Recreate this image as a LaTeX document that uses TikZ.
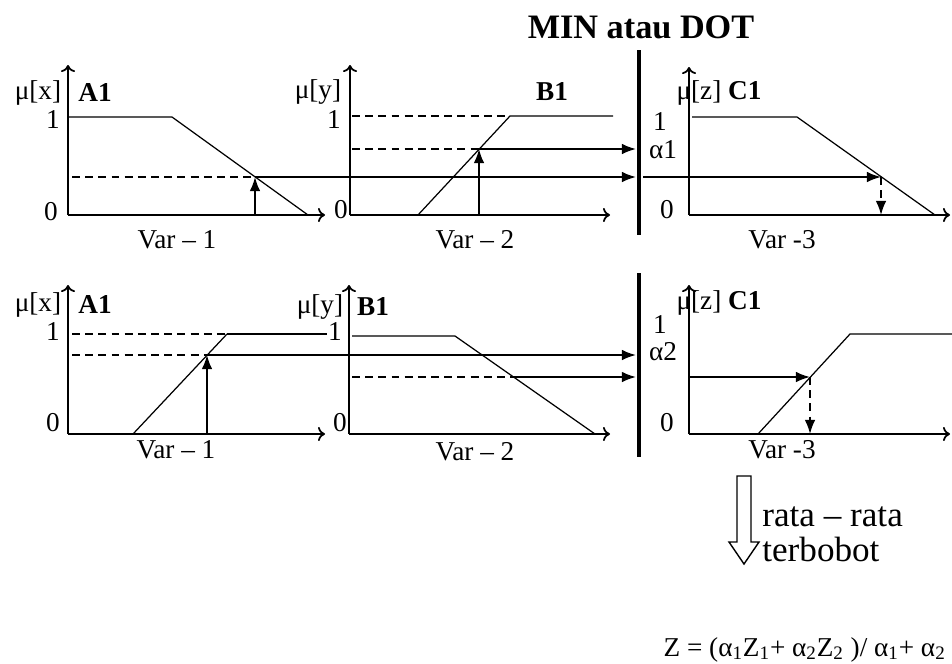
\documentclass[tikz,border=0pt]{standalone}
\usepackage{fontspec}
\setmainfont{Liberation Serif}
\usetikzlibrary{arrows.meta,positioning}

\begin{document}
\begin{tikzpicture}[
  x=0.02cm, y=-0.02cm,
  font=\fontsize{15.5}{17}\selectfont,
  ax/.style={line width=1pt, -{To[length=4pt,width=8pt]}},
  mf/.style={line width=0.7pt},
  lv/.style={line width=1pt, dash pattern=on 4.5pt off 3pt},
  d/.style={line width=1pt, -{Latex[length=8pt,width=6pt]}},
  dd/.style={d, dash pattern=on 4.5pt off 3pt},
  bar/.style={line width=2.5pt},
  t/.style={inner sep=0pt}
]
\useasboundingbox (0,0) rectangle (952,663);

\node[t, font=\fontsize{19.5}{21}\selectfont\bfseries] (title) at (641,27) {MIN atau DOT};

% rule 1 : A1
\coordinate (oa1) at (68,215);
\coordinate (ya1) at (68,65);
\coordinate (xa1) at (325,215);
\coordinate (a1l) at (68,117);
\coordinate (a1t) at (172,117);
\coordinate (a1b) at (308,215);
\coordinate (a1d) at (72,177);
\coordinate (a1x) at (255,215);
\coordinate (a1p) at (255,177);
\draw[ax] (oa1) -- (ya1);
\draw[ax] (oa1) -- (xa1);
\draw[mf] (a1l) -- (a1t) -- (a1b);
\draw[lv] (a1d) -- (a1p);
\draw[d] (a1x) -- (a1p);
\node[t] (mx1) at (38,93) {μ[x]};
\node[t] (na1) at (95,93) {\textbf{A1}};
\node[t] (one1) at (53,120) {1};
\node[t] (zero1) at (51,212) {0};
\node[t] (v11) at (177,240) {Var – 1};

% rule 1 : B1
\coordinate (ob1) at (350,215);
\coordinate (yb1) at (350,65);
\coordinate (xb1) at (610,215);
\coordinate (b1s) at (418,215);
\coordinate (b1t) at (510,116);
\coordinate (b1r) at (613,116);
\coordinate (b1d) at (352,116);
\coordinate (b1e) at (352,149);
\coordinate (b1x) at (479,215);
\coordinate (b1p) at (479,149);
\draw[ax] (ob1) -- (yb1);
\draw[ax] (ob1) -- (xb1);
\draw[mf] (b1s) -- (b1t) -- (b1r);
\draw[lv] (b1d) -- (b1t);
\draw[lv] (b1e) -- (b1p);
\draw[d] (b1x) -- (b1p);
\node[t] (my1) at (318,92) {μ[y]};
\node[t] (nb1) at (552,92) {\textbf{B1}};
\node[t] (one2) at (334,120) {1};
\node[t] (zero2) at (341,210) {0};
\node[t] (v21) at (475,240) {Var – 2};

% rule 1 : min
\coordinate (m1t) at (639,50);
\coordinate (m1b) at (639,235);
\coordinate (m1a) at (636,149);
\coordinate (m1c) at (636,177);
\coordinate (m1o) at (643,177);
\draw[bar] (m1t) -- (m1b);
\draw[d] (b1p) -- (m1a);
\draw[d] (a1p) -- (m1c);

% rule 1 : C1
\coordinate (oc1) at (689,215);
\coordinate (yc1) at (689,67);
\coordinate (xc1) at (950,215);
\coordinate (c1l) at (692,117);
\coordinate (c1t) at (797,117);
\coordinate (c1b) at (935,215);
\coordinate (c1p) at (881,177);
\coordinate (c1x) at (881,215);
\draw[ax] (oc1) -- (yc1);
\draw[ax] (oc1) -- (xc1);
\draw[mf] (c1l) -- (c1t) -- (c1b);
\draw[d] (m1o) -- (c1p);
\draw[dd] (c1p) -- (c1x);
\node[t] (mz1) at (719,93) {μ[z] \textbf{C1}};
\node[t] (one3) at (660,122) {1};
\node[t] (al1) at (663,150) {α1};
\node[t] (zero3) at (667,210) {0};
\node[t] (v31) at (782,240) {Var -3};

% rule 2 : A1
\coordinate (oa2) at (68,434);
\coordinate (ya2) at (68,285);
\coordinate (xa2) at (325,434);
\coordinate (a2s) at (133,434);
\coordinate (a2t) at (227,334);
\coordinate (a2r) at (327,334);
\coordinate (a2d) at (72,334);
\coordinate (a2e) at (72,355);
\coordinate (a2x) at (207,434);
\coordinate (a2p) at (207,355);
\draw[ax] (oa2) -- (ya2);
\draw[ax] (oa2) -- (xa2);
\draw[mf] (a2s) -- (a2t);
\draw[line width=1pt] (a2t) -- (a2r);
\draw[lv] (a2d) -- (a2t);
\draw[lv] (a2e) -- (a2p);
\draw[d] (a2x) -- (a2p);
\node[t] (mx2) at (38,305) {μ[x]};
\node[t] (na2) at (95,305) {\textbf{A1}};
\node[t] (one4) at (53,332) {1};
\node[t] (zero4) at (53,423) {0};
\node[t] (v12) at (176,450) {Var – 1};

% rule 2 : B1
\coordinate (ob2) at (349,434);
\coordinate (yb2) at (349,285);
\coordinate (xb2) at (610,434);
\coordinate (b2l) at (352,336);
\coordinate (b2t) at (455,336);
\coordinate (b2b) at (595,434);
\coordinate (b2d) at (352,377);
\coordinate (b2p) at (514,377);
\draw[ax] (ob2) -- (yb2);
\draw[ax] (ob2) -- (xb2);
\draw[mf] (b2l) -- (b2t) -- (b2b);
\draw[lv] (b2d) -- (b2p);
\node[t] (my2) at (320,307) {μ[y]};
\node[t] (nb2) at (373,307) {\textbf{B1}};
\node[t] (one5) at (335,332) {1};
\node[t] (zero5) at (340,423) {0};
\node[t] (v22) at (475,452) {Var – 2};

% rule 2 : min
\coordinate (m2t) at (639,273);
\coordinate (m2b) at (639,457);
\coordinate (m2a) at (636,355);
\coordinate (m2c) at (636,377);
\draw[bar] (m2t) -- (m2b);
\draw[d] (a2p) -- (m2a);
\draw[d] (b2p) -- (m2c);

% rule 2 : C1
\coordinate (oc2) at (689,434);
\coordinate (yc2) at (689,285);
\coordinate (xc2) at (950,434);
\coordinate (c2s) at (758,434);
\coordinate (c2t) at (850,334);
\coordinate (c2r) at (952,334);
\coordinate (c2o) at (690,377);
\coordinate (c2p) at (810,377);
\coordinate (c2x) at (810,434);
\draw[ax] (oc2) -- (yc2);
\draw[ax] (oc2) -- (xc2);
\draw[mf] (c2s) -- (c2t) -- (c2r);
\draw[d] (c2o) -- (c2p);
\draw[dd] (c2p) -- (c2x);
\node[t] (mz2) at (719,303) {μ[z] \textbf{C1}};
\node[t] (one6) at (660,325) {1};
\node[t] (al2) at (663,352) {α2};
\node[t] (zero6) at (667,423) {0};
\node[t] (v32) at (782,450) {Var -3};

% defuzzification
\draw[line width=0.8pt] (737,476) -- (751,476) -- (751,542) -- (759,542)
  -- (744,564) -- (729,542) -- (737,542) -- cycle;
\node[t, anchor=west, align=left, font=\fontsize{20}{20}\selectfont] (avg) at (762,534)
  {rata – rata\\terbobot};
\node[t, anchor=base east] (res) at (946,656)
  {Z = (α\textsubscript{1}Z\textsubscript{1}+ α\textsubscript{2}Z\textsubscript{2} )/ α\textsubscript{1}+ α\textsubscript{2}};
\end{tikzpicture}
\end{document}
